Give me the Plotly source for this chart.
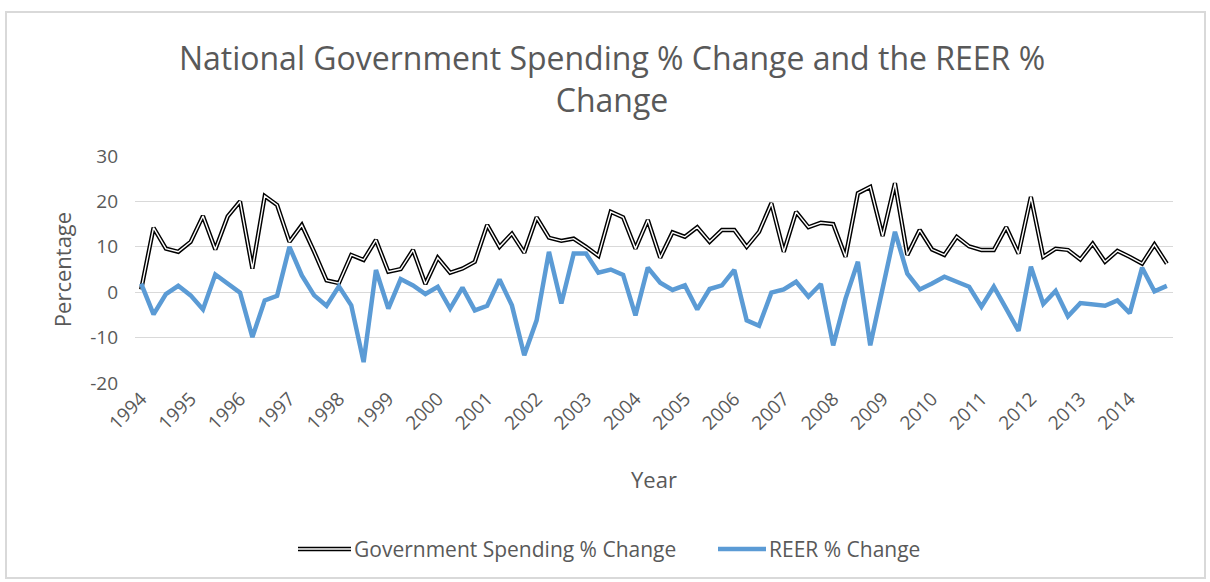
import plotly.graph_objects as go

# Quarterly observations, 1994 Q1 – 2014 Q4
years = [str(y) for y in range(1994, 2015)]

gov_spending = [
    0.6, 14.2, 9.6, 8.9, 11.1, 16.8, 9.4, 16.7, 20.0, 5.2, 21.2, 19.2,
    11.1, 14.8, 8.9, 2.6, 2.0, 8.2, 7.1, 11.5, 4.5, 5.1, 9.3, 1.8,
    7.6, 4.3, 5.2, 6.7, 14.8, 10.0, 12.9, 8.7, 16.5, 12.0, 11.3, 11.8,
    10.0, 8.0, 17.7, 16.5, 9.6, 15.9, 7.6, 13.2, 12.2, 14.3, 11.1, 13.7,
    13.7, 10.0, 13.3, 19.6, 8.9, 17.7, 14.3, 15.3, 15.0, 7.8, 21.8, 23.2,
    12.4, 24.0, 8.2, 13.7, 9.4, 8.2, 12.2, 10.1, 9.3, 9.3, 14.3, 8.5,
    21.0, 7.8, 9.6, 9.3, 7.2, 10.7, 6.7, 9.1, 7.8, 6.3, 10.5, 6.3,
]

reer = [
    1.9, -4.9, -0.4, 1.4, -0.7, -3.8, 3.9, 1.9, -0.1, -9.9, -1.8, -0.8,
    10.0, 3.7, -0.7, -3.0, 1.3, -2.9, -15.4, 4.9, -3.6, 2.9, 1.5, -0.4,
    1.2, -3.6, 1.0, -4.0, -3.0, 2.8, -2.9, -13.9, -6.2, 8.9, -2.5, 8.5,
    8.5, 4.3, 5.0, 3.8, -5.1, 5.4, 2.1, 0.5, 1.5, -3.8, 0.7, 1.5,
    4.9, -6.2, -7.4, -0.1, 0.6, 2.3, -1.0, 1.8, -11.7, -1.4, 6.7, -11.7,
    1.0, 13.3, 4.1, 0.6, 1.9, 3.4, 2.3, 1.2, -3.2, 1.2, -3.6, -8.5,
    5.6, -2.6, 0.3, -5.3, -2.4, -2.6, -3.0, -1.8, -4.6, 5.4, 0.2, 1.4,
]

y_ticks = [-20, -10, 0, 10, 20, 30]

quarters = list(range(len(gov_spending)))
tick_positions = quarters[::4]

W, H = 1210, 582
L, R, T, B = 135, 37, 156, 199
PW, PH = W - L - R, H - T - B

TEXT = "#595959"
BLUE = "#5B9BD5"
FONT = "Open Sans"


def px_x(px):
    return (px - L) / PW


def px_y(py):
    return (H - B - py) / PH


fig = go.Figure()

# double-stroke line: black body with a thin white core
fig.add_trace(go.Scatter(
    x=quarters, y=gov_spending, mode="lines", name="Government Spending % Change",
    line=dict(color="#000000", width=4.3), showlegend=False, hoverinfo="skip",
))
fig.add_trace(go.Scatter(
    x=quarters, y=gov_spending, mode="lines", name="Government Spending % Change",
    line=dict(color="#FFFFFF", width=1.4), showlegend=False,
))
fig.add_trace(go.Scatter(
    x=quarters, y=reer, mode="lines", name="REER % Change",
    line=dict(color=BLUE, width=4.5), showlegend=False,
))

shapes = [
    # outer chart frame
    dict(type="rect", xref="paper", yref="paper",
         x0=px_x(6), x1=px_x(1205), y0=px_y(578), y1=px_y(12),
         line=dict(color="#D9D9D9", width=2), fillcolor="rgba(0,0,0,0)", layer="below"),
    # legend keys
    dict(type="line", xref="paper", yref="paper",
         x0=px_x(298), x1=px_x(351), y0=px_y(549), y1=px_y(549),
         line=dict(color="#000000", width=4.3)),
    dict(type="line", xref="paper", yref="paper",
         x0=px_x(298), x1=px_x(351), y0=px_y(549), y1=px_y(549),
         line=dict(color="#FFFFFF", width=1.4)),
    dict(type="line", xref="paper", yref="paper",
         x0=px_x(718), x1=px_x(766), y0=px_y(549), y1=px_y(549),
         line=dict(color=BLUE, width=4.5)),
]

annotations = [
    dict(text="Government Spending % Change", xref="paper", yref="paper",
         x=px_x(352), y=px_y(549), xanchor="left", yanchor="middle",
         showarrow=False, font=dict(family=FONT, size=21, color=TEXT)),
    dict(text="REER % Change", xref="paper", yref="paper",
         x=px_x(767), y=px_y(549), xanchor="left", yanchor="middle",
         showarrow=False, font=dict(family=FONT, size=21, color=TEXT)),
]

fig.update_layout(
    width=W, height=H,
    margin=dict(l=L, r=R, t=T, b=B),
    paper_bgcolor="#FFFFFF", plot_bgcolor="#FFFFFF",
    font=dict(family=FONT, color=TEXT),
    title=dict(
        text="National Government Spending % Change and the REER %<br>Change",
        x=612 / W, xanchor="center", xref="container",
        y=1 - 70 / H, yanchor="top", yref="container",
        font=dict(family=FONT, size=32, color=TEXT),
    ),
    xaxis=dict(
        range=[-0.5, len(quarters) - 0.5],
        tickmode="array", tickvals=tick_positions, ticktext=years,
        tickangle=-45, tickfont=dict(family=FONT, size=19, color=TEXT),
        showgrid=False, zeroline=False, showline=False, ticks="",
        title=dict(text="Year", font=dict(family=FONT, size=22, color=TEXT), standoff=38),
    ),
    yaxis=dict(
        range=[-20, 30],
        tickmode="array", tickvals=y_ticks, ticktext=[str(v) for v in y_ticks],
        tickfont=dict(family=FONT, size=19, color=TEXT),
        ticklabelstandoff=16,
        showgrid=True, gridcolor="#D9D9D9", gridwidth=1,
        zeroline=False, showline=False, ticks="", ticklen=0,
        title=dict(text="Percentage", font=dict(family=FONT, size=22, color=TEXT), standoff=12),
    ),
    shapes=shapes,
    annotations=annotations,
)

fig.write_html("out.html")
